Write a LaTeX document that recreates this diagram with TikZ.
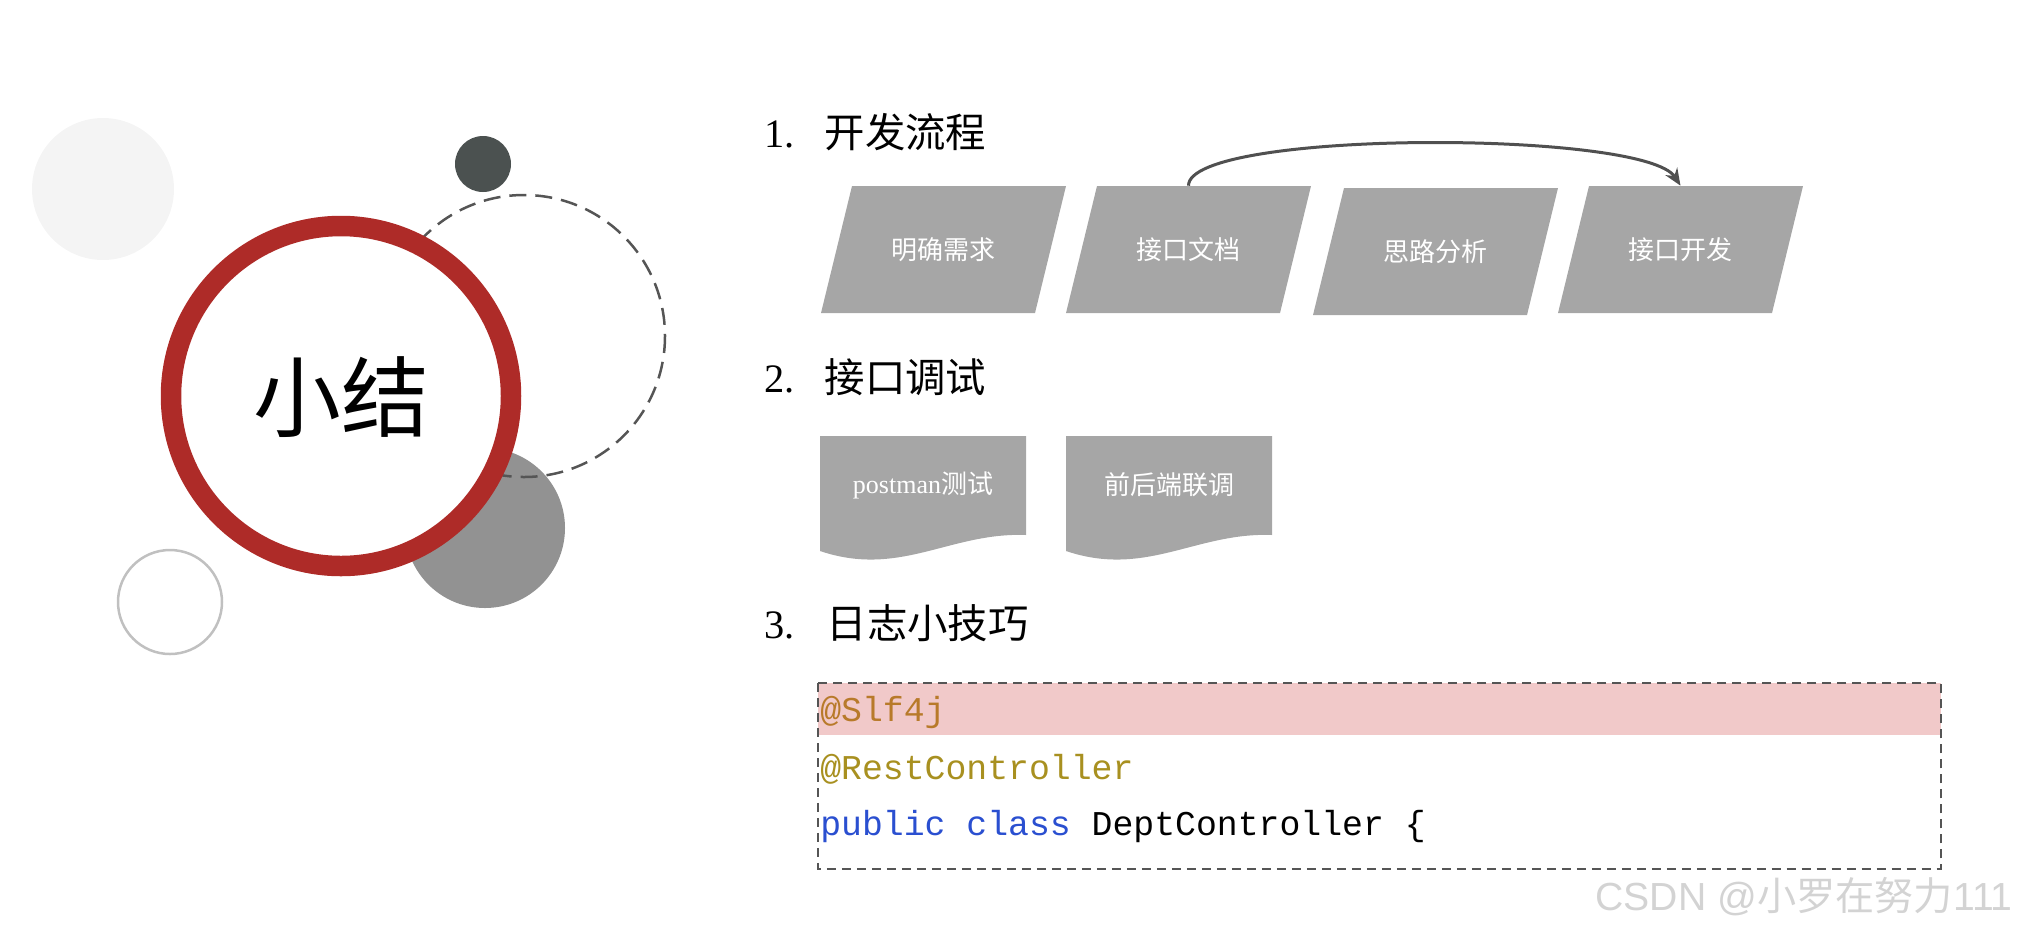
\documentclass[tikz,border=0pt]{standalone}
\usepackage{fontspec}
\setmainfont{Liberation Serif}
\newfontfamily\cjk{Noto Sans CJK SC}
\newfontfamily\codefont{Liberation Mono}
\newfontfamily\wmfont{Liberation Sans}
\usetikzlibrary{arrows.meta}
\definecolor{lightc}{HTML}{F4F4F4}
\definecolor{darkc}{HTML}{4B5150}
\definecolor{dashc}{HTML}{555555}
\definecolor{redc}{HTML}{AE2B28}
\definecolor{grayc}{HTML}{929292}
\definecolor{ringc}{HTML}{C0C0C0}
\definecolor{boxc}{HTML}{A6A6A6}
\definecolor{pinkc}{HTML}{F1C9C9}
\definecolor{annoA}{HTML}{B87A2A}
\definecolor{annoB}{HTML}{A89020}
\definecolor{kwc}{HTML}{2A4FD0}
\definecolor{wmc}{HTML}{D3D3D3}
\definecolor{arrc}{HTML}{505050}
\tikzset{
  titletext/.style={anchor=west, inner sep=0pt, font=\fontsize{23pt}{27pt}\selectfont},
  boxtext/.style={inner sep=0pt, text=white, font=\fontsize{14.8pt}{18pt}\selectfont},
  codetext/.style={anchor=west, inner sep=0pt, font=\codefont\fontsize{19.8pt}{23pt}\selectfont},
  flowarrow/.style={draw=arrc, line width=0.06cm, -{Stealth[length=0.34cm,width=0.28cm]}},
}
\begin{document}
\begin{tikzpicture}[x=0.02cm, y=-0.02cm]
\useasboundingbox (0,0) rectangle (2018,931);
% decorative circles
\fill[lightc] (103,189) circle[radius=71];
\fill[darkc] (483,164) circle[radius=28];
\fill[grayc] (485,528) circle[radius=80];
\draw[dashc, line width=0.05cm, dash pattern=on 0.34cm off 0.18cm] (524,336) circle[radius=141];
\draw[redc, line width=0.41cm, fill=white] (341,396) circle[radius=170];
\draw[ringc, line width=0.05cm] (170,602) circle[radius=52];
\node[inner sep=0pt, font=\cjk\fontsize{50pt}{55pt}\selectfont] (xj) at (341,397) {小结};
% titles
\node[titletext] (t1) at (764,132) {1.\hspace{0.6cm}{\cjk 开发流程}};
\node[titletext] (t2) at (764,377) {2.\hspace{0.6cm}{\cjk 接口调试}};
\node[titletext] (t3) at (764,623) {3.\hspace{0.64cm}{\cjk 日志小技巧}};
% process boxes
\foreach \x/\y/\n/\t in {821/186/b1/明确需求, 1066/186/b2/接口文档, 1313/188/b3/思路分析, 1558/186/b4/接口开发}{
  \fill[boxc] (\x,\y+127) -- (\x+214,\y+127) -- (\x+245,\y) -- (\x+31,\y) -- cycle;
  \node[boxtext, minimum height=2.54cm] (\n) at (\x+122.5,\y+63.5) {\cjk \t};
}
\draw[flowarrow] (b2.north) .. controls +(0,-56) and +(-36,-56) .. (b4.north);
% document shapes
\foreach \x in {820,1066}{
  \fill[boxc] (\x,436) -- (\x+206,436) -- (\x+206,535) .. controls (\x+130,532) and (\x+80,578) .. (\x,551) -- cycle;
}
\node[boxtext] (d1) at (923,485) {postman{\cjk 测试}};
\node[boxtext] (d2) at (1169,485) {\cjk 前后端联调};
% code box
\fill[pinkc] (818,683) rectangle (1941,735);
\draw[dashc, line width=0.04cm, dash pattern=on 0.18cm off 0.12cm] (818,683) rectangle (1941,869);
\node[codetext, text=annoA] (c1) at (820,712) {@Slf4j};
\node[codetext, text=annoB] (c2) at (820,769) {@RestController};
\node[codetext] (c3) at (820,826) {{\color{kwc}public class} DeptController \{};
% watermark
\node[anchor=east, inner sep=0pt, text=wmc, font=\fontsize{22.3pt}{26pt}\selectfont] (wm) at (2013,897) {{\wmfont CSDN @}{\cjk 小罗在努力}{\wmfont 111}};
\end{tikzpicture}
\end{document}
